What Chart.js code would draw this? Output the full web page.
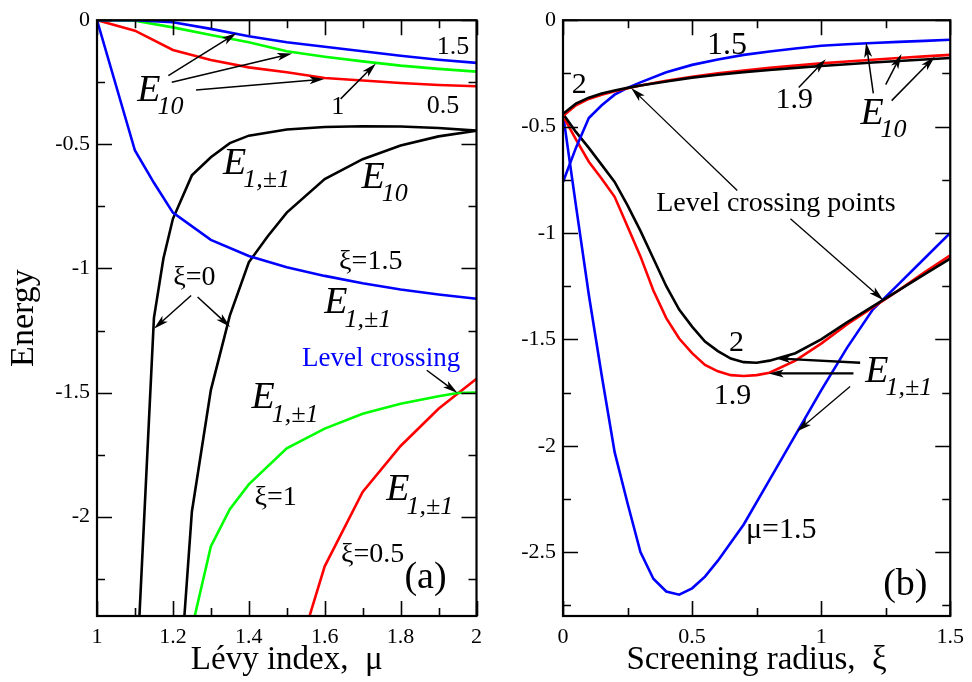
<!DOCTYPE html>
<html>
<head>
<meta charset="utf-8">
<script src="https://cdn.jsdelivr.net/npm/chart.js@4.4.1/dist/chart.umd.min.js"></script>
<style>
  body { margin: 0; background: #fff; }
  #wrap { position: relative; width: 972px; height: 682px; }
  canvas { position: absolute; top: 0; }
  #chartA { left: 0; }
  #chartB { left: 490px; }
</style>
</head>
<body>
<div id="wrap">
  <canvas id="chartA" width="490" height="682" style="width:490px;height:682px"></canvas>
  <canvas id="chartB" width="482" height="682" style="width:482px;height:682px"></canvas>
</div>
<script>
// ---- panel (a): energy vs Levy index mu ----
var muE10 = [1, 1.1, 1.2, 1.3, 1.4, 1.5, 1.6, 1.7, 1.8, 1.9, 2];
var e10Xi15 = [0, 0, -0.008, -0.035, -0.065, -0.089, -0.107, -0.125, -0.143, -0.159, -0.172];
var e10Xi1 = [0, -0.002, -0.029, -0.06, -0.089, -0.125, -0.147, -0.166, -0.183, -0.196, -0.207];
var e10Xi05 = [0, -0.042, -0.12, -0.16, -0.19, -0.21, -0.233, -0.243, -0.253, -0.261, -0.266];

var muE11Xi15 = [1, 1.1, 1.15, 1.2, 1.3, 1.4, 1.5, 1.6, 1.7, 1.8, 1.9, 2];
var e11Xi15 = [0, -0.525, -0.655, -0.775, -0.885, -0.95, -0.995, -1.03, -1.06, -1.085, -1.105, -1.122];

var muE11Xi0 = [1.1, 1.15, 1.175, 1.2, 1.25, 1.3, 1.35, 1.4, 1.5, 1.6, 1.7, 1.8, 1.9, 2];
var e11Xi0 = [-2.77, -1.2, -0.96, -0.8, -0.625, -0.552, -0.495, -0.465, -0.44, -0.43, -0.427, -0.428, -0.434, -0.445];

var muE10Xi0 = [1.22, 1.25, 1.3, 1.35, 1.4, 1.45, 1.5, 1.6, 1.7, 1.8, 1.9, 2];
var e10Xi0 = [-2.62, -1.98, -1.49, -1.19, -0.975, -0.87, -0.775, -0.64, -0.56, -0.505, -0.468, -0.445];

var muE11Xi1 = [1.25, 1.3, 1.35, 1.4, 1.5, 1.6, 1.7, 1.8, 1.9, 1.95, 2];
var e11Xi1 = [-2.45, -2.12, -1.97, -1.87, -1.725, -1.645, -1.585, -1.545, -1.515, -1.502, -1.5];

var muE11Xi05 = [1.55, 1.6, 1.7, 1.8, 1.9, 2];
var e11Xi05 = [-2.45, -2.2, -1.9, -1.715, -1.565, -1.444];

var xTicksA = [1, 1.2, 1.4, 1.6, 1.8, 2];
var xMinorA = [1.1, 1.3, 1.5, 1.7, 1.9];
var yTicksA = [0, -0.5, -1, -1.5, -2];
var yMinorA = [-0.25, -0.75, -1.25, -1.75, -2.25];

// ---- panel (b): energy vs screening radius xi ----
var xiE10 = [0, 0.05, 0.1, 0.15, 0.2, 0.25, 0.3, 0.4, 0.5, 0.6, 0.7, 0.8, 0.9, 1.0, 1.1, 1.2, 1.3, 1.4, 1.5];
var e10Mu15 = [-0.76, -0.6, -0.46, -0.4, -0.35, -0.318, -0.292, -0.245, -0.21, -0.185, -0.163, -0.147, -0.133, -0.12, -0.113, -0.107, -0.102, -0.097, -0.092];
var e10Mu2 = [-0.44, -0.392, -0.364, -0.345, -0.33, -0.318, -0.307, -0.288, -0.27, -0.256, -0.244, -0.234, -0.224, -0.215, -0.207, -0.199, -0.192, -0.185, -0.178];
var e10Mu19 = [-0.45, -0.4, -0.37, -0.35, -0.334, -0.32, -0.307, -0.285, -0.266, -0.25, -0.236, -0.224, -0.213, -0.203, -0.194, -0.186, -0.178, -0.17, -0.163];

var xiE11 = [0, 0.05, 0.1, 0.15, 0.2, 0.25, 0.3, 0.35, 0.4, 0.45, 0.5, 0.55, 0.6, 0.65, 0.7, 0.75, 0.8, 0.9, 1.0, 1.1, 1.2, 1.3, 1.4, 1.5];
var e11Mu2 = [-0.44, -0.525, -0.6, -0.68, -0.76, -0.87, -0.99, -1.12, -1.25, -1.36, -1.44, -1.51, -1.555, -1.59, -1.607, -1.61, -1.6, -1.565, -1.5, -1.42, -1.345, -1.27, -1.195, -1.12];
var e11Mu19 = [-0.45, -0.56, -0.665, -0.745, -0.83, -0.97, -1.11, -1.27, -1.4, -1.496, -1.565, -1.62, -1.65, -1.668, -1.672, -1.668, -1.657, -1.6, -1.52, -1.43, -1.35, -1.27, -1.185, -1.105];

var xiE11Mu15 = [0, 0.05, 0.1, 0.15, 0.2, 0.25, 0.3, 0.35, 0.4, 0.45, 0.5, 0.55, 0.6, 0.7, 0.8, 0.9, 1.0, 1.1, 1.2, 1.3, 1.4, 1.5];
var e11Mu15 = [-0.44, -0.87, -1.29, -1.67, -2.03, -2.27, -2.5, -2.625, -2.685, -2.7, -2.67, -2.615, -2.54, -2.37, -2.16, -1.95, -1.74, -1.54, -1.36, -1.24, -1.12, -1.0];

var xTicksB = [0, 0.5, 1, 1.5];
var xMinorB = [0.25, 0.75, 1.25];
var yTicksB = [0, -0.5, -1, -1.5, -2, -2.5];
var yMinorB = [-0.25, -0.75, -1.25, -1.75, -2.25, -2.75];

// labels and arrows, placed in data coordinates
var textsA = [
  { t: '1.5', x: 1.895, y: -0.135, size: 26 },
  { t: '0.5', x: 1.869, y: -0.372, size: 26 },
  { t: '1', x: 1.617, y: -0.376, size: 26 },
  { t: 'E', sub: '10', x: 1.106, y: -0.324, size: 38 },
  { t: 'E', sub: '1,±1', x: 1.332, y: -0.618, size: 38 },
  { t: 'E', sub: '10', x: 1.697, y: -0.674, size: 38 },
  { t: 'ξ=0', x: 1.201, y: -1.068, size: 28 },
  { t: 'ξ=1.5', x: 1.638, y: -1.004, size: 28 },
  { t: 'E', sub: '1,±1', x: 1.599, y: -1.181, size: 38 },
  { t: 'Level crossing', x: 1.54, y: -1.393, size: 27, color: '#0000ff' },
  { t: 'E', sub: '1,±1', x: 1.407, y: -1.563, size: 38 },
  { t: 'ξ=1', x: 1.415, y: -1.954, size: 28 },
  { t: 'E', sub: '1,±1', x: 1.762, y: -1.934, size: 38 },
  { t: 'ξ=0.5', x: 1.643, y: -2.184, size: 28 },
  { t: '(a)', x: 1.81, y: -2.288, size: 38 }
];
var arrowsA = [
  [1.188, -0.223, 1.368, -0.052, 1.5],
  [1.197, -0.25, 1.514, -0.134, 1.5],
  [1.261, -0.281, 1.599, -0.237, 1.5],
  [1.642, -0.317, 1.735, -0.174, 1.5],
  [1.248, -1.109, 1.15, -1.243, 1.5],
  [1.265, -1.115, 1.351, -1.236, 1.5],
  [1.869, -1.41, 1.95, -1.502, 1.5]
];
var textsB = [
  { t: '1.5', x: 0.558, y: -0.157, size: 32 },
  { t: '2', x: 0.034, y: -0.344, size: 30 },
  { t: '1.9', x: 0.823, y: -0.414, size: 30 },
  { t: 'E', sub: '10', x: 1.152, y: -0.486, size: 38 },
  { t: 'Level crossing points', x: 0.361, y: -0.897, size: 28 },
  { t: '2', x: 0.643, y: -1.555, size: 30 },
  { t: '1.9', x: 0.584, y: -1.805, size: 30 },
  { t: 'E', sub: '1,±1', x: 1.171, y: -1.7, size: 38 },
  { t: 'μ=1.5', x: 0.709, y: -2.433, size: 30 },
  { t: '(b)', x: 1.24, y: -2.699, size: 38 }
];
var arrowsB = [
  [0.913, -0.316, 1.018, -0.183, 1.5],
  [1.202, -0.344, 1.174, -0.105, 1.5],
  [1.25, -0.303, 1.311, -0.159, 1.5],
  [1.273, -0.378, 1.44, -0.172, 1.5],
  [0.675, -0.8, 0.264, -0.319, 1.3],
  [0.881, -0.933, 1.241, -1.316, 1.3],
  [1.151, -1.61, 0.823, -1.589, 2.4],
  [1.125, -1.66, 0.797, -1.66, 2.4],
  [1.112, -1.722, 0.906, -1.933, 1.3]
];

var serif = '"Liberation Serif", "Times New Roman", serif';

function pts(xs, ys) {
  return xs.map(function (v, i) { return { x: v, y: ys[i] }; });
}

function line(xs, ys, color) {
  return {
    data: pts(xs, ys),
    borderColor: color,
    backgroundColor: color,
    borderWidth: 2.6,
    showLine: true,
    pointRadius: 0,
    tension: 0,
    fill: false
  };
}

// inward ticks on all four sides, box frame, texts and arrows
var framePlugin = {
  id: 'frame',
  afterDatasetsDraw: function (chart, args, opts) {
    var ctx = chart.ctx, a = chart.chartArea;
    var sx = chart.scales.x, sy = chart.scales.y;
    ctx.save();
    ctx.strokeStyle = '#000';
    ctx.lineWidth = 1.6;
    ctx.beginPath();
    function xt(vals, len) {
      vals.forEach(function (v) {
        var p = Math.round(sx.getPixelForValue(v)) + 0.5;
        ctx.moveTo(p, a.bottom); ctx.lineTo(p, a.bottom - len);
        ctx.moveTo(p, a.top); ctx.lineTo(p, a.top + len);
      });
    }
    function yt(vals, len) {
      vals.forEach(function (v) {
        var p = Math.round(sy.getPixelForValue(v)) + 0.5;
        ctx.moveTo(a.left, p); ctx.lineTo(a.left + len, p);
        ctx.moveTo(a.right, p); ctx.lineTo(a.right - len, p);
      });
    }
    xt(opts.xMajor, 15); xt(opts.xMinor, 8);
    yt(opts.yMajor, 15); yt(opts.yMinor, 8);
    ctx.stroke();
    ctx.lineWidth = 2.2;
    ctx.strokeRect(a.left, a.top, a.right - a.left, a.bottom - a.top);

    // arrows
    ctx.fillStyle = '#000';
    opts.arrows.forEach(function (r) {
      var x1 = sx.getPixelForValue(r[0]), y1 = sy.getPixelForValue(r[1]);
      var x2 = sx.getPixelForValue(r[2]), y2 = sy.getPixelForValue(r[3]);
      var ang = Math.atan2(y2 - y1, x2 - x1);
      var hl = 15, hw = 4;
      ctx.lineWidth = r[4];
      ctx.beginPath();
      ctx.moveTo(x1, y1);
      ctx.lineTo(x2 - Math.cos(ang) * hl * 0.7, y2 - Math.sin(ang) * hl * 0.7);
      ctx.stroke();
      ctx.beginPath();
      ctx.moveTo(x2, y2);
      ctx.lineTo(x2 - Math.cos(ang) * hl + Math.sin(ang) * hw, y2 - Math.sin(ang) * hl - Math.cos(ang) * hw);
      ctx.lineTo(x2 - Math.cos(ang) * hl * 0.75, y2 - Math.sin(ang) * hl * 0.75);
      ctx.lineTo(x2 - Math.cos(ang) * hl - Math.sin(ang) * hw, y2 - Math.sin(ang) * hl + Math.cos(ang) * hw);
      ctx.closePath();
      ctx.fill();
    });

    // texts
    ctx.textBaseline = 'alphabetic';
    ctx.textAlign = 'left';
    opts.texts.forEach(function (t) {
      var px = sx.getPixelForValue(t.x), py = sy.getPixelForValue(t.y);
      ctx.fillStyle = t.color || '#000';
      if (t.sub) {
        ctx.font = 'italic ' + t.size + 'px ' + serif;
        ctx.fillText(t.t, px, py);
        var w = ctx.measureText(t.t).width;
        ctx.font = 'italic ' + Math.round(t.size * 0.68) + 'px ' + serif;
        ctx.fillText(t.sub, px + w - 3, py + t.size * 0.35);
      } else {
        ctx.font = t.size + 'px ' + serif;
        ctx.fillText(t.t, px, py);
      }
    });
    ctx.restore();
  }
};

function makeChart(id, c) {
  return new Chart(document.getElementById(id).getContext('2d'), {
    type: 'scatter',
    data: { datasets: c.datasets },
    plugins: [framePlugin],
    options: {
      responsive: false,
      animation: false,
      layout: { padding: c.padding },
      plugins: {
        legend: { display: false },
        tooltip: { enabled: false },
        frame: { xMajor: c.xMajor, xMinor: c.xMinor, yMajor: c.yMajor, yMinor: c.yMinor, texts: c.texts, arrows: c.arrows }
      },
      scales: {
        x: {
          type: 'linear', min: c.xMin, max: c.xMax,
          grid: { display: false, drawTicks: false },
          border: { display: false },
          afterBuildTicks: function (s) { s.ticks = c.xMajor.map(function (v) { return { value: v }; }); },
          afterFit: function (s) { s.height = 66; },
          ticks: {
            padding: 8, color: '#000', autoSkip: false, maxRotation: 0,
            font: { family: serif, size: 22 },
            callback: function (v) { return String(v); }
          },
          title: {
            display: true, text: c.xTitle, color: '#000',
            font: { family: serif, size: 33 },
            padding: { top: 0, bottom: 2 }
          }
        },
        y: {
          type: 'linear', min: c.yMin, max: 0,
          grid: { display: false, drawTicks: false },
          border: { display: false },
          afterBuildTicks: function (s) { s.ticks = c.yMajor.map(function (v) { return { value: v }; }); },
          afterFit: function (s) { s.width = c.yWidth; },
          ticks: {
            padding: 7, color: '#000', autoSkip: false,
            font: { family: serif, size: 22 },
            callback: function (v) { return String(v); }
          },
          title: {
            display: !!c.yTitle, text: c.yTitle || '', color: '#000',
            font: { family: serif, size: 34 },
            padding: { top: 4, bottom: 0 }
          }
        }
      }
    }
  });
}

makeChart('chartA', {
  datasets: [
    line(muE10, e10Xi15, '#0000ff'),
    line(muE10, e10Xi1, '#00ff00'),
    line(muE10, e10Xi05, '#ff0000'),
    line(muE11Xi15, e11Xi15, '#0000ff'),
    line(muE11Xi0, e11Xi0, '#000000'),
    line(muE10Xi0, e10Xi0, '#000000'),
    line(muE11Xi1, e11Xi1, '#00ff00'),
    line(muE11Xi05, e11Xi05, '#ff0000')
  ],
  xMin: 1, xMax: 2, yMin: -2.4,
  xMajor: xTicksA, xMinor: xMinorA, yMajor: yTicksA, yMinor: yMinorA,
  xTitle: 'Lévy index,  μ', yTitle: 'Energy',
  yWidth: 97,
  padding: { left: 0, right: 4, top: 19, bottom: 0 },
  texts: textsA, arrows: arrowsA
});

makeChart('chartB', {
  datasets: [
    line(xiE10, e10Mu2, '#000000'),
    line(xiE10, e10Mu19, '#ff0000'),
    line(xiE10, e10Mu15, '#0000ff'),
    line(xiE11, e11Mu2, '#000000'),
    line(xiE11, e11Mu19, '#ff0000'),
    line(xiE11Mu15, e11Mu15, '#0000ff')
  ],
  xMin: 0, xMax: 1.5, yMin: -2.8,
  xMajor: xTicksB, xMinor: xMinorB, yMajor: yTicksB, yMinor: yMinorB,
  xTitle: 'Screening radius,  ξ', yTitle: null,
  yWidth: 73,
  padding: { left: 0, right: 20, top: 19, bottom: 0 },
  texts: textsB, arrows: arrowsB
});
</script>
</body>
</html>
